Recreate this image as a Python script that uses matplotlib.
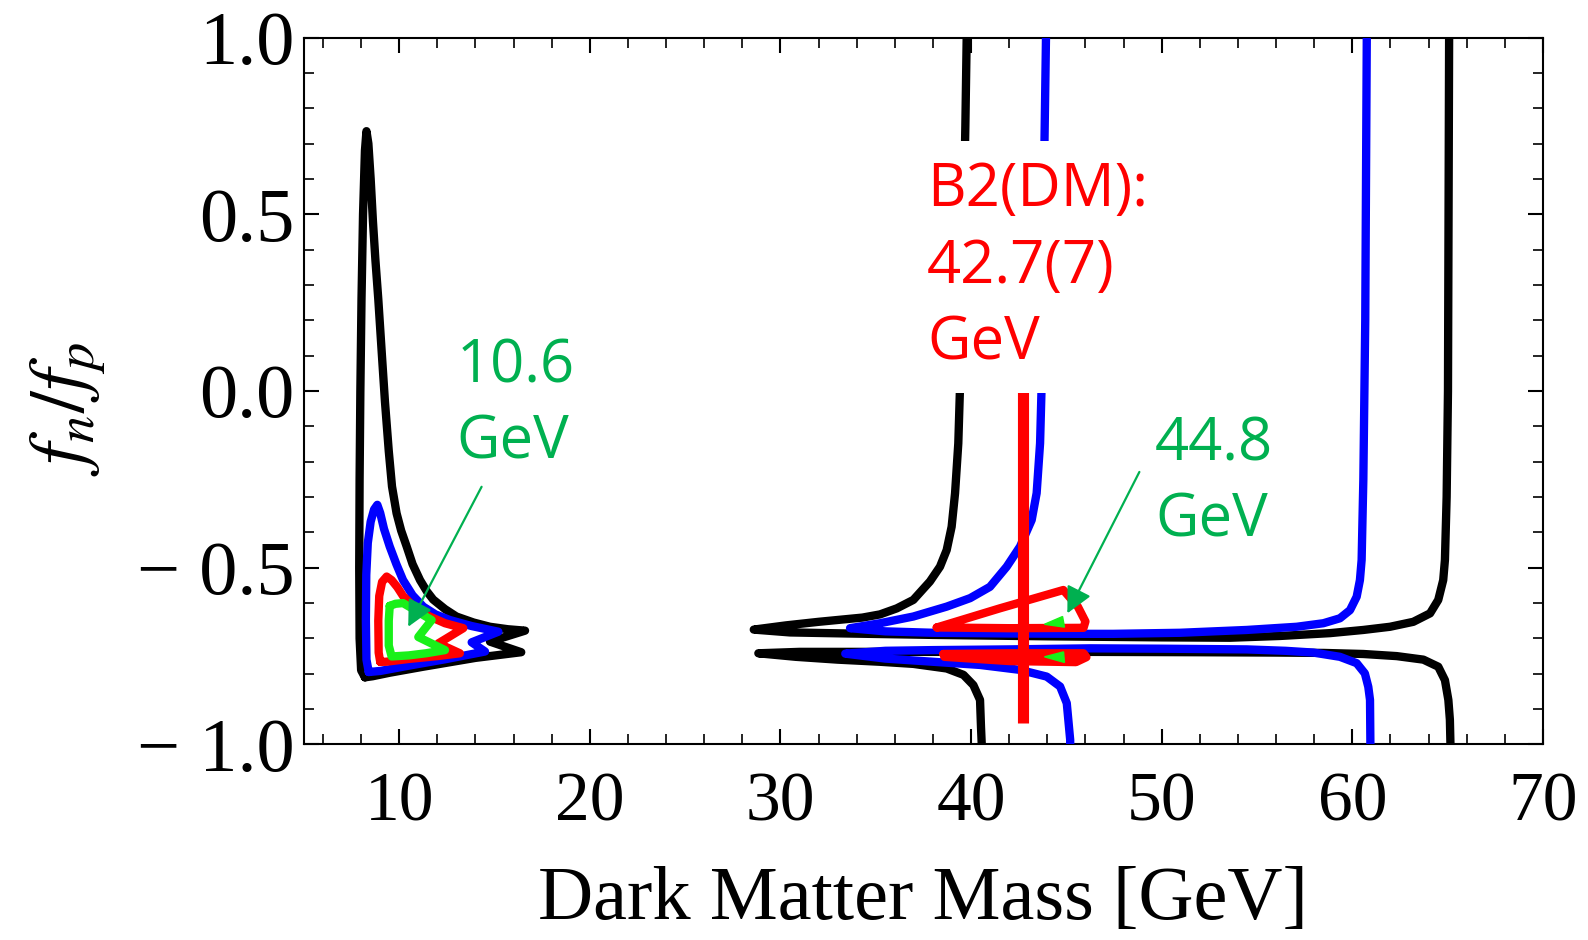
import numpy as np
import matplotlib.pyplot as plt
from matplotlib.ticker import MultipleLocator

plt.rcParams['mathtext.fontset'] = 'stix'

# contour traces (x = dark matter mass [GeV], y = fn/fp)
# island around 10 GeV (closed loops)
left_black_x = [8.2, 8.0, 7.92, 7.9, 7.92, 7.96, 8.02, 8.1, 8.2, 8.28, 8.38, 8.5, 8.62, 8.75, 8.9, 9.08,
                9.25, 9.45, 9.62, 9.86, 10.1, 10.39, 10.7, 11.09, 11.45, 11.78, 12.4, 13.0, 13.9, 14.76,
                15.7, 16.6, 14.76, 16.4, 14.0, 11.26, 9.5, 8.6]
left_black_y = [-0.81, -0.79, -0.7, -0.5, -0.25, 0.0, 0.26, 0.5, 0.68, 0.735, 0.70, 0.6, 0.48, 0.37, 0.26,
                0.11, -0.03, -0.17, -0.27, -0.346, -0.395, -0.44, -0.49, -0.535, -0.567, -0.59, -0.617,
                -0.638, -0.655, -0.667, -0.674, -0.678, -0.709, -0.739, -0.755, -0.78, -0.797, -0.807]
left_blue_x = [8.4, 8.28, 8.25, 8.27, 8.35, 8.5, 8.68, 8.85, 9.0, 9.2, 9.5, 9.85, 10.2, 10.7, 11.26, 11.9,
               12.66, 13.8, 15.2, 13.8, 14.5, 12.5, 10.5, 9.0]
left_blue_y = [-0.795, -0.76, -0.65, -0.52, -0.43, -0.37, -0.335, -0.322, -0.345, -0.39, -0.44, -0.49,
               -0.535, -0.578, -0.61, -0.632, -0.648, -0.665, -0.681, -0.711, -0.737, -0.758, -0.777, -0.792]
left_red_x = [9.0, 8.92, 8.9, 8.95, 9.1, 9.34, 9.6, 9.9, 10.2, 10.8, 11.6, 12.4, 13.36, 12.05, 13.18,
              12.0, 10.5, 9.3]
left_red_y = [-0.766, -0.74, -0.65, -0.58, -0.54, -0.525, -0.535, -0.555, -0.58, -0.612, -0.638, -0.657,
              -0.671, -0.714, -0.742, -0.75, -0.758, -0.766]
left_green_x = [9.5, 9.8, 10.2, 10.9, 11.7, 11.0, 12.4, 11.4, 10.5, 9.6, 9.45, 9.45]
left_green_y = [-0.608, -0.602, -0.60, -0.622, -0.648, -0.696, -0.733, -0.742, -0.748, -0.751, -0.72, -0.65]

# branches between 28 and 65 GeV (open curves)
upper_black_x = [39.77, 39.7, 39.6, 39.5, 39.42, 39.33, 39.16, 38.98, 38.72, 38.37, 37.84, 36.97, 36.1,
                 35.22, 34.3, 32.0, 30.3, 28.6, 30.5, 33.5, 38.0, 44.0, 50.0, 53.58, 56.21, 58.83, 60.58,
                 61.98, 63.2, 64.08, 64.51, 64.77, 64.86, 64.95, 65.02, 65.08]
upper_black_y = [1.0, 0.75, 0.45, 0.2, 0.012, -0.148, -0.289, -0.384, -0.45, -0.497, -0.539, -0.591, -0.615,
                 -0.632, -0.641, -0.653, -0.663, -0.675, -0.683, -0.686, -0.690, -0.694, -0.697, -0.698,
                 -0.693, -0.685, -0.676, -0.667, -0.653, -0.629, -0.591, -0.535, -0.478, -0.3, 0.0, 1.0]
upper_blue_x = [43.93, 43.85, 43.78, 43.70, 43.62, 43.44, 43.18, 42.57, 41.87, 40.99, 39.95, 38.72, 36.97,
                35.22, 33.65, 35.5, 38.0, 42.0, 46.0, 47.46, 50.96, 54.46, 57.08, 58.48, 59.35, 59.88, 60.23,
                60.4, 60.49, 60.58, 60.68, 60.76]
upper_blue_y = [1.0, 0.7, 0.35, 0.012, -0.148, -0.289, -0.365, -0.44, -0.497, -0.554, -0.586, -0.610,
                -0.638, -0.657, -0.671, -0.680, -0.684, -0.686, -0.687, -0.687, -0.684, -0.676, -0.667,
                -0.657, -0.643, -0.620, -0.582, -0.535, -0.478, -0.25, 0.2, 1.0]
lower_black_x = [40.56, 40.52, 40.47, 40.12, 39.6, 38.72, 36.97, 35.22, 33.0, 30.8, 28.84, 31.0, 34.0, 40.0,
                 46.0, 52.0, 56.0, 58.5, 60.58, 62.33, 63.73, 64.51, 64.86, 65.04, 65.12, 65.15]
lower_black_y = [-1.0, -0.95, -0.874, -0.832, -0.803, -0.785, -0.772, -0.766, -0.760, -0.752, -0.742,
                 -0.738, -0.738, -0.738, -0.738, -0.739, -0.740, -0.741, -0.744, -0.750, -0.760, -0.780,
                 -0.818, -0.874, -0.93, -1.0]
lower_blue_x = [45.2, 45.2, 45.02, 44.67, 43.97, 42.57, 40.47, 38.0, 35.5, 33.4, 35.5, 38.0, 42.0, 46.24,
                50.0, 54.46, 56.5, 57.96, 59.35, 60.23, 60.66, 60.84, 60.93, 60.95]
lower_blue_y = [-1.0, -0.987, -0.883, -0.836, -0.808, -0.789, -0.775, -0.766, -0.757, -0.743, -0.735,
                -0.733, -0.731, -0.728, -0.729, -0.731, -0.735, -0.740, -0.752, -0.770, -0.799, -0.837,
                -0.874, -1.0]
red_up_x = [38.2, 41.5, 44.84, 45.6, 46.0, 45.9, 42.0]
red_up_y = [-0.669, -0.615, -0.563, -0.61, -0.652, -0.670, -0.671]
red_low_x = [38.55, 42.0, 45.9, 46.05, 45.5, 42.0, 38.6]
red_low_y = [-0.744, -0.742, -0.742, -0.753, -0.767, -0.764, -0.752]
green_up_x = [43.85, 44.8, 44.9]
green_up_y = [-0.66, -0.638, -0.668]
green_low_x = [43.85, 44.85, 44.9]
green_low_y = [-0.752, -0.738, -0.768]

b2_mass = 42.7
b2_span = [-0.94, 0.01]

x_ticks = [10, 20, 30, 40, 50, 60, 70]
y_ticks = [-1.0, -0.5, 0.0, 0.5, 1.0]
y_tick_labels = ['\u2212 1.0', '\u2212 0.5', '0.0', '0.5', '1.0']

# annotations: text position (baseline of last line), arrow start, arrow tip
ann_10 = {'text': '10.6\nGeV', 'pos': (13.0, -0.192), 'start': (14.32, -0.271), 'tip': (10.47, -0.667)}
ann_44 = {'text': '44.8\nGeV', 'pos': (49.65, -0.413), 'start': (48.83, -0.229), 'tip': (45.05, -0.629)}
b2_text = {'text': 'B2(DM):\n42.7(7)\nGeV', 'pos': (37.7, 0.089)}

c_black, c_blue, c_red, c_green = '#000000', '#0000ff', '#ff0000', '#19f019'
c_note = '#00b050'
lw = 6.0


def loop(x, y):
    return np.append(x, x[0]), np.append(y, y[0])


fig = plt.figure(figsize=(15.88, 9.40), dpi=100)
ax = fig.add_axes([0.1914, 0.2080, 0.7802, 0.7521])

kw = dict(solid_joinstyle='round', solid_capstyle='round')
ax.plot(*loop(left_black_x, left_black_y), color=c_black, lw=lw, zorder=2, **kw)
ax.plot(upper_black_x, upper_black_y, color=c_black, lw=lw, zorder=2, **kw)
ax.plot(lower_black_x, lower_black_y, color=c_black, lw=lw, zorder=2, **kw)

ax.plot(*loop(left_blue_x, left_blue_y), color=c_blue, lw=lw, zorder=3, **kw)
ax.plot(upper_blue_x, upper_blue_y, color=c_blue, lw=lw, zorder=3, **kw)
ax.plot(lower_blue_x, lower_blue_y, color=c_blue, lw=lw, zorder=3, **kw)

ax.plot(*loop(left_red_x, left_red_y), color=c_red, lw=lw, zorder=4, **kw)
ax.plot(*loop(red_up_x, red_up_y), color=c_red, lw=lw, zorder=4, **kw)
ax.fill(red_low_x, red_low_y, color=c_red, zorder=4)
ax.plot(*loop(red_low_x, red_low_y), color=c_red, lw=lw, zorder=4, **kw)

ax.plot(*loop(left_green_x, left_green_y), color=c_green, lw=lw, zorder=5, **kw)
ax.fill(green_up_x, green_up_y, color=c_green, zorder=5)
ax.fill(green_low_x, green_low_y, color=c_green, zorder=5)

ax.plot([b2_mass, b2_mass], b2_span, color=c_red, lw=8, solid_capstyle='butt', zorder=6)

for a in (ann_10, ann_44):
    ax.annotate('', xy=a['tip'], xytext=a['start'],
                arrowprops=dict(arrowstyle='-|>', color=c_note, lw=1.6, mutation_scale=40,
                                shrinkA=0, shrinkB=0), zorder=7)
    ax.text(a['pos'][0], a['pos'][1], a['text'], color=c_note, fontsize=43, family='Open Sans',
            ha='left', va='baseline', linespacing=1.36, zorder=8)

ax.text(b2_text['pos'][0], b2_text['pos'][1], b2_text['text'], color=c_red, fontsize=43,
        family='Open Sans', ha='left', va='baseline', linespacing=1.36, zorder=9,
        bbox=dict(facecolor='white', edgecolor='none', pad=14))

ax.set_xlim(5, 70)
ax.set_ylim(-1, 1)
ax.set_xticks(x_ticks)
ax.set_yticks(y_ticks)
ax.set_yticklabels(y_tick_labels)
ax.xaxis.set_minor_locator(MultipleLocator(2))
ax.yaxis.set_minor_locator(MultipleLocator(0.1))
ax.tick_params(which='both', direction='in', top=True, right=True)
ax.tick_params(which='major', length=11, width=1.5)
ax.tick_params(which='minor', length=7, width=1.2)
ax.tick_params(axis='x', pad=20)
ax.tick_params(axis='y', pad=7)
for lab in ax.get_xticklabels():
    lab.set_family('Liberation Serif')
    lab.set_fontsize(50)
for lab in ax.get_yticklabels():
    lab.set_family('Liberation Serif')
    lab.set_fontsize(55)
for s in ax.spines.values():
    s.set_linewidth(1.5)

ax.set_xlabel('Dark Matter Mass [GeV]', family='Liberation Serif', fontsize=55, va='center')
ax.xaxis.set_label_coords(0.5, -0.221)
ax.set_ylabel(r'$f_n/f_p$', fontsize=56, va='center')
ax.yaxis.set_label_coords(-0.19, 0.475)

fig.savefig('out.png', dpi=100)
